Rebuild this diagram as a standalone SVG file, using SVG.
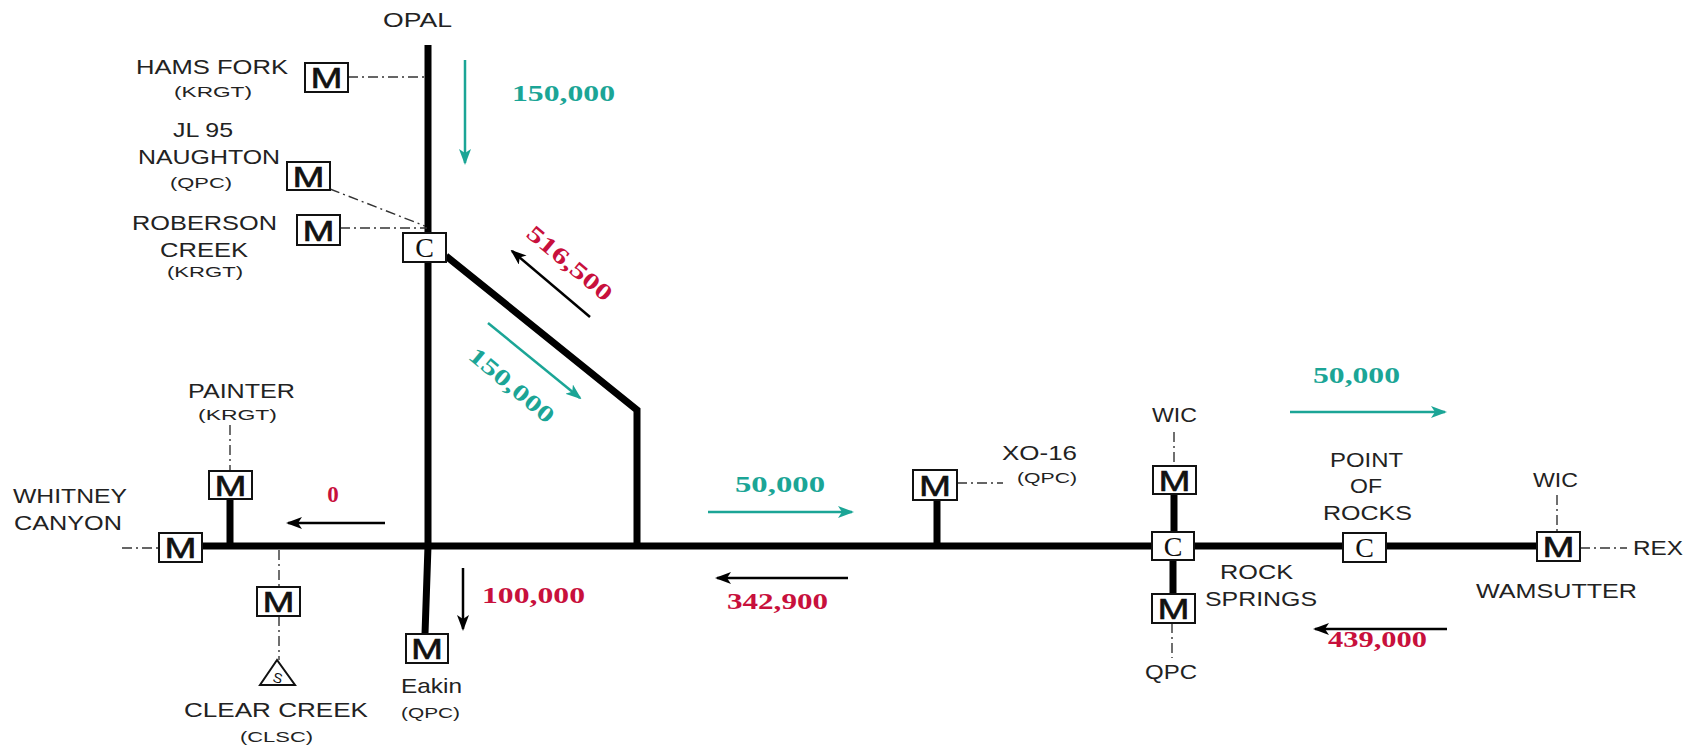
<svg xmlns="http://www.w3.org/2000/svg" width="1700" height="749" viewBox="0 0 1700 749">
<style>
.lbl{font-family:"Liberation Sans",Arial,sans-serif;font-size:21px;fill:#222}
.sm{font-family:"Liberation Sans",Arial,sans-serif;font-size:15px;fill:#222}
.num{font-family:"Liberation Serif","Times New Roman",serif;font-size:23px;font-weight:bold}
.teal{fill:#1BA596}
.red{fill:#C8103C}
.box{fill:#fff;stroke:#111;stroke-width:2}
.mt{font-family:"Liberation Sans",Arial,sans-serif;font-size:30px;fill:#111;text-anchor:middle;stroke:#111;stroke-width:0.6}
.ct{font-family:"Liberation Serif","Times New Roman",serif;font-size:28px;fill:#111;text-anchor:middle}
.pipe{fill:none;stroke:#000;stroke-width:7;stroke-linejoin:miter}
.dd{fill:none;stroke:#333;stroke-width:1.4;stroke-dasharray:10 4 2 4}
.ab{stroke:#000;stroke-width:2.5;fill:none}
.at{stroke:#1BA596;stroke-width:2.5;fill:none}
</style>
<defs>
<marker id="hb" markerUnits="userSpaceOnUse" markerWidth="16" markerHeight="12" refX="14" refY="6" orient="auto"><path d="M0,0 L16,6 L0,12 L4,6 Z" fill="#000"/></marker>
<marker id="ht" markerUnits="userSpaceOnUse" markerWidth="16" markerHeight="12" refX="14" refY="6" orient="auto"><path d="M0,0 L16,6 L0,12 L4,6 Z" fill="#1BA596"/></marker>
</defs>
<rect width="1700" height="749" fill="#fff"/>

<g id="connectors">
<path class="pipe" d="M202,546 L1537,546"/>
<path class="pipe" d="M428,45 L428,546 L425,634"/>
<path class="pipe" d="M446,256 L637,410 L637,546"/>
<path class="pipe" d="M230,499 L230,546"/>
<path class="pipe" d="M937,500 L937,546"/>
<path class="pipe" d="M1174,494 L1174,532"/>
<path class="pipe" d="M1173,560 L1173,594"/>
<path class="dd" d="M348,77 L427,77"/>
<path class="dd" d="M330,189 L425,226"/>
<path class="dd" d="M340,228 L427,228"/>
<path class="dd" d="M230,425 L230,471"/>
<path class="dd" d="M122,548 L159,548"/>
<path class="dd" d="M279,550 L279,587"/>
<path class="dd" d="M279,616 L279,660"/>
<path class="dd" d="M957,483 L1003,483"/>
<path class="dd" d="M1174,432 L1174,466"/>
<path class="dd" d="M1172,623 L1172,658"/>
<path class="dd" d="M1557,495 L1557,532"/>
<path class="dd" d="M1580,548 L1627,548"/>
</g>

<g id="flows">
<path class="at" d="M465,60 L465,163" marker-end="url(#ht)"/>
<text class="num teal" x="512" y="101" textLength="103" lengthAdjust="spacingAndGlyphs">150,000</text>
<path class="ab" d="M590,317 L512,251" marker-end="url(#hb)"/>
<text class="num red" transform="translate(570,263) rotate(40)" x="0" y="8" text-anchor="middle" textLength="104" lengthAdjust="spacingAndGlyphs">516,500</text>
<path class="at" d="M488,323 L580,398" marker-end="url(#ht)"/>
<text class="num teal" transform="translate(512,385) rotate(40)" x="0" y="8" text-anchor="middle" textLength="104" lengthAdjust="spacingAndGlyphs">150,000</text>
<path class="at" d="M708,512 L852,512" marker-end="url(#ht)"/>
<text class="num teal" x="735" y="492" textLength="90" lengthAdjust="spacingAndGlyphs">50,000</text>
<path class="ab" d="M385,523 L288,523" marker-end="url(#hb)"/>
<text class="num red" x="333" y="502" text-anchor="middle">0</text>
<path class="ab" d="M463,568 L463,629" marker-end="url(#hb)"/>
<text class="num red" x="482" y="603" textLength="103" lengthAdjust="spacingAndGlyphs">100,000</text>
<path class="ab" d="M848,578 L717,578" marker-end="url(#hb)"/>
<text class="num red" x="727" y="609" textLength="101" lengthAdjust="spacingAndGlyphs">342,900</text>
<path class="at" d="M1290,412 L1445,412" marker-end="url(#ht)"/>
<text class="num teal" x="1313" y="383" textLength="87" lengthAdjust="spacingAndGlyphs">50,000</text>
<path class="ab" d="M1447,629 L1315,629" marker-end="url(#hb)"/>
<text class="num red" x="1328" y="647" textLength="99" lengthAdjust="spacingAndGlyphs">439,000</text>
</g>

<g id="opal"><text class="lbl" x="383" y="27" textLength="69" lengthAdjust="spacingAndGlyphs">OPAL</text></g>

<g id="hams-fork">
<rect class="box" x="305" y="63" width="43" height="29"/>
<text class="mt" x="326.5" y="88" textLength="32" lengthAdjust="spacingAndGlyphs">M</text>
<text class="lbl" x="136" y="74" textLength="152" lengthAdjust="spacingAndGlyphs">HAMS FORK</text>
<text class="sm" x="174" y="97" textLength="78" lengthAdjust="spacingAndGlyphs">(KRGT)</text>
</g>

<g id="naughton">
<rect class="box" x="287" y="162" width="43" height="28"/>
<text class="mt" x="308.5" y="187" textLength="32" lengthAdjust="spacingAndGlyphs">M</text>
<text class="lbl" x="173" y="137" textLength="60" lengthAdjust="spacingAndGlyphs">JL 95</text>
<text class="lbl" x="138" y="164" textLength="142" lengthAdjust="spacingAndGlyphs">NAUGHTON</text>
<text class="sm" x="170" y="188" textLength="62" lengthAdjust="spacingAndGlyphs">(QPC)</text>
</g>

<g id="roberson-creek">
<rect class="box" x="297" y="215" width="43" height="30"/>
<text class="mt" x="318.5" y="241" textLength="32" lengthAdjust="spacingAndGlyphs">M</text>
<text class="lbl" x="132" y="230" textLength="145" lengthAdjust="spacingAndGlyphs">ROBERSON</text>
<text class="lbl" x="160" y="257" textLength="88" lengthAdjust="spacingAndGlyphs">CREEK</text>
<text class="sm" x="167" y="277" textLength="76" lengthAdjust="spacingAndGlyphs">(KRGT)</text>
</g>

<g id="opal-compressor">
<rect class="box" x="403" y="233" width="43" height="29"/>
<text class="ct" x="424.5" y="257">C</text>
</g>

<g id="painter">
<rect class="box" x="209" y="471" width="43" height="28"/>
<text class="mt" x="230.5" y="496" textLength="32" lengthAdjust="spacingAndGlyphs">M</text>
<text class="lbl" x="188" y="398" textLength="107" lengthAdjust="spacingAndGlyphs">PAINTER</text>
<text class="sm" x="198" y="420" textLength="79" lengthAdjust="spacingAndGlyphs">(KRGT)</text>
</g>

<g id="whitney-canyon">
<rect class="box" x="159" y="533" width="43" height="29"/>
<text class="mt" x="180.5" y="558" textLength="32" lengthAdjust="spacingAndGlyphs">M</text>
<text class="lbl" x="13" y="503" textLength="114" lengthAdjust="spacingAndGlyphs">WHITNEY</text>
<text class="lbl" x="14" y="530" textLength="108" lengthAdjust="spacingAndGlyphs">CANYON</text>
</g>

<g id="clear-creek">
<rect class="box" x="257" y="587" width="43" height="29"/>
<text class="mt" x="278.5" y="612" textLength="32" lengthAdjust="spacingAndGlyphs">M</text>
<path d="M277,660 L260,685 L295,685 Z" fill="#fff" stroke="#111" stroke-width="2"/>
<text x="278" y="683" transform="rotate(15,278,677)" font-family="Liberation Sans, Arial, sans-serif" font-size="14" fill="#111" text-anchor="middle">S</text>
<text class="lbl" x="184" y="717" textLength="184" lengthAdjust="spacingAndGlyphs">CLEAR CREEK</text>
<text class="sm" x="240" y="742" textLength="73" lengthAdjust="spacingAndGlyphs">(CLSC)</text>
</g>

<g id="eakin">
<rect class="box" x="406" y="634" width="42" height="29"/>
<text class="mt" x="427" y="659" textLength="32" lengthAdjust="spacingAndGlyphs">M</text>
<text class="lbl" x="401" y="693" textLength="61" lengthAdjust="spacingAndGlyphs">Eakin</text>
<text class="sm" x="401" y="718" font-size="16" textLength="59" lengthAdjust="spacingAndGlyphs">(QPC)</text>
</g>

<g id="xo-16">
<rect class="box" x="913" y="470" width="44" height="30"/>
<text class="mt" x="935" y="496" textLength="32" lengthAdjust="spacingAndGlyphs">M</text>
<text class="lbl" x="1002" y="460" textLength="75" lengthAdjust="spacingAndGlyphs">XO-16</text>
<text class="sm" x="1017" y="483" textLength="60" lengthAdjust="spacingAndGlyphs">(QPC)</text>
</g>

<g id="rock-springs-wic">
<rect class="box" x="1153" y="466" width="43" height="28"/>
<text class="mt" x="1174.5" y="491" textLength="32" lengthAdjust="spacingAndGlyphs">M</text>
<text class="lbl" x="1152" y="422" textLength="45" lengthAdjust="spacingAndGlyphs">WIC</text>
</g>

<g id="rock-springs">
<rect class="box" x="1152" y="532" width="42" height="28"/>
<text class="ct" x="1173" y="556">C</text>
<text class="lbl" x="1220" y="579" textLength="73" lengthAdjust="spacingAndGlyphs">ROCK</text>
<text class="lbl" x="1205" y="606" textLength="112" lengthAdjust="spacingAndGlyphs">SPRINGS</text>
</g>

<g id="rock-springs-qpc">
<rect class="box" x="1152" y="594" width="43" height="29"/>
<text class="mt" x="1173.5" y="619" textLength="32" lengthAdjust="spacingAndGlyphs">M</text>
<text class="lbl" x="1145" y="679" textLength="52" lengthAdjust="spacingAndGlyphs">QPC</text>
</g>

<g id="point-of-rocks">
<rect class="box" x="1343" y="533" width="43" height="29"/>
<text class="ct" x="1364.5" y="557">C</text>
<text class="lbl" x="1330" y="467" textLength="73" lengthAdjust="spacingAndGlyphs">POINT</text>
<text class="lbl" x="1350" y="493" textLength="32" lengthAdjust="spacingAndGlyphs">OF</text>
<text class="lbl" x="1323" y="520" textLength="89" lengthAdjust="spacingAndGlyphs">ROCKS</text>
</g>

<g id="wamsutter">
<rect class="box" x="1537" y="532" width="43" height="29"/>
<text class="mt" x="1558.5" y="557" textLength="32" lengthAdjust="spacingAndGlyphs">M</text>
<text class="lbl" x="1533" y="487" textLength="45" lengthAdjust="spacingAndGlyphs">WIC</text>
<text class="lbl" x="1476" y="598" textLength="161" lengthAdjust="spacingAndGlyphs">WAMSUTTER</text>
</g>

<g id="rex"><text class="lbl" x="1633" y="555" textLength="50" lengthAdjust="spacingAndGlyphs">REX</text></g>
</svg>
